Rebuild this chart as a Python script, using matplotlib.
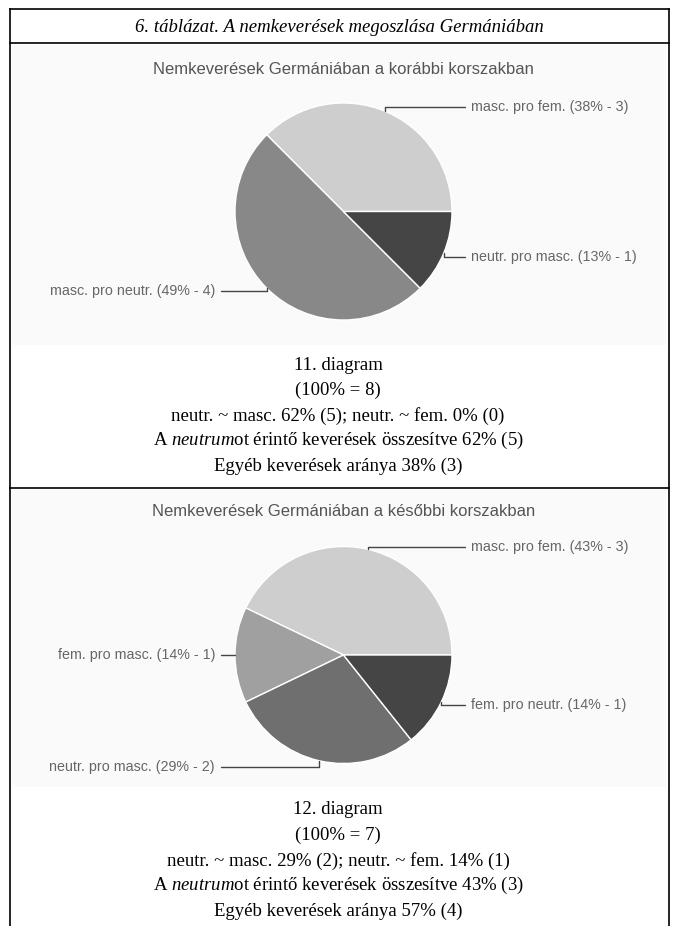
import numpy as np
import matplotlib.pyplot as plt
from matplotlib.patches import Rectangle

plt.rcParams['mathtext.fontset'] = 'custom'
plt.rcParams['mathtext.rm'] = 'Liberation Serif'
plt.rcParams['mathtext.it'] = 'Liberation Serif:italic'

# data
table_title = '6. táblázat. A nemkeverések megoszlása Germániában'

title1 = 'Nemkeverések Germániában a korábbi korszakban'
names1 = ['masc. pro fem.', 'masc. pro neutr.', 'neutr. pro masc.']
counts1 = [3, 4, 1]
pcts1 = [38, 49, 13]
colors1 = ['#cfcecf', '#888888', '#454545']
caption1 = ['11. diagram', '(100% = 8)',
            'neutr. ~ masc. 62% (5); neutr. ~ fem. 0% (0)',
            r'A $\mathit{neutrum}$ot érintő keverések összesítve 62% (5)',
            'Egyéb keverések aránya 38% (3)']

title2 = 'Nemkeverések Germániában a későbbi korszakban'
names2 = ['masc. pro fem.', 'fem. pro masc.', 'neutr. pro masc.', 'fem. pro neutr.']
counts2 = [3, 1, 2, 1]
pcts2 = [43, 14, 29, 14]
colors2 = ['#cfcecf', '#a0a0a0', '#6f6f6f', '#454545']
caption2 = ['12. diagram', '(100% = 7)',
            'neutr. ~ masc. 29% (2); neutr. ~ fem. 14% (1)',
            r'A $\mathit{neutrum}$ot érintő keverések összesítve 43% (3)',
            'Egyéb keverések aránya 57% (4)']

W, H = 676, 926
fig = plt.figure(figsize=(W / 100, H / 100), dpi=100)

# background axes in image pixel coordinates
bg = fig.add_axes([0, 0, 1, 1])
bg.set_xlim(0, W)
bg.set_ylim(H, 0)
bg.axis('off')

# light gray chart areas
bg.add_patch(Rectangle((12, 45), 654, 300, color='#fafafa', lw=0))
bg.add_patch(Rectangle((12, 490), 654, 297, color='#fafafa', lw=0))

# table borders
lc = dict(color='black', lw=1.2)
bg.plot([10, 669], [9, 9], **lc)
bg.plot([10, 669], [43, 43], **lc)
bg.plot([10, 669], [488, 488], **lc)
bg.plot([10, 10], [9, H], **lc)
bg.plot([669, 669], [9, H], **lc)

serif = 'Liberation Serif'
bg.text(339, 27, table_title, ha='center', va='center', fontsize=13.5,
        style='italic', family=serif)


def draw_pie(cx, cy, r, title, title_y, names, counts, pcts, colors, label_pos, caption, cap_y):
    ax = fig.add_axes([(cx - r) / W, (H - cy - r) / H, 2 * r / W, 2 * r / H])
    wedges, _ = ax.pie(counts, colors=colors, startangle=0, counterclock=True,
                       wedgeprops=dict(edgecolor='white', linewidth=1))
    ax.set_xlim(-1, 1)
    ax.set_ylim(-1, 1)
    ax.axis('off')

    bg.text(cx, title_y, title, ha='center', va='center', fontsize=12,
            color='#555555', family='Liberation Sans')

    for w, name, n, p, (lx, ly, side) in zip(wedges, names, counts, pcts, label_pos):
        mid = np.deg2rad((w.theta1 + w.theta2) / 2)
        ax.annotate(f'{name} ({p}% - {n})', xy=(np.cos(mid), np.sin(mid)), xycoords='data',
                    xytext=(lx, ly), textcoords=bg.transData,
                    ha='left' if side == 'r' else 'right', va='center',
                    fontsize=10.3, color='#666666', family='Liberation Sans',
                    annotation_clip=False,
                    arrowprops=dict(arrowstyle='-', color='#444444', lw=1,
                                    shrinkA=2, shrinkB=0,
                                    connectionstyle='angle,angleA=0,angleB=90,rad=0'))

    for i, line in enumerate(caption):
        bg.text(W / 2, cap_y + i * 25.3, line, ha='center', va='center',
                fontsize=13.5, family=serif)


draw_pie(343.5, 211.5, 108.5, title1, 70, names1, counts1, pcts1, colors1,
         [(471, 107, 'r'), (215, 291, 'l'), (471, 257, 'r')],
         caption1, 365)

draw_pie(343.5, 655, 108.5, title2, 512, names2, counts2, pcts2, colors2,
         [(471, 547, 'r'), (215, 655, 'l'), (215, 767, 'l'), (471, 705, 'r')],
         caption2, 810)

plt.savefig('out.png', dpi=100)
plt.close()
